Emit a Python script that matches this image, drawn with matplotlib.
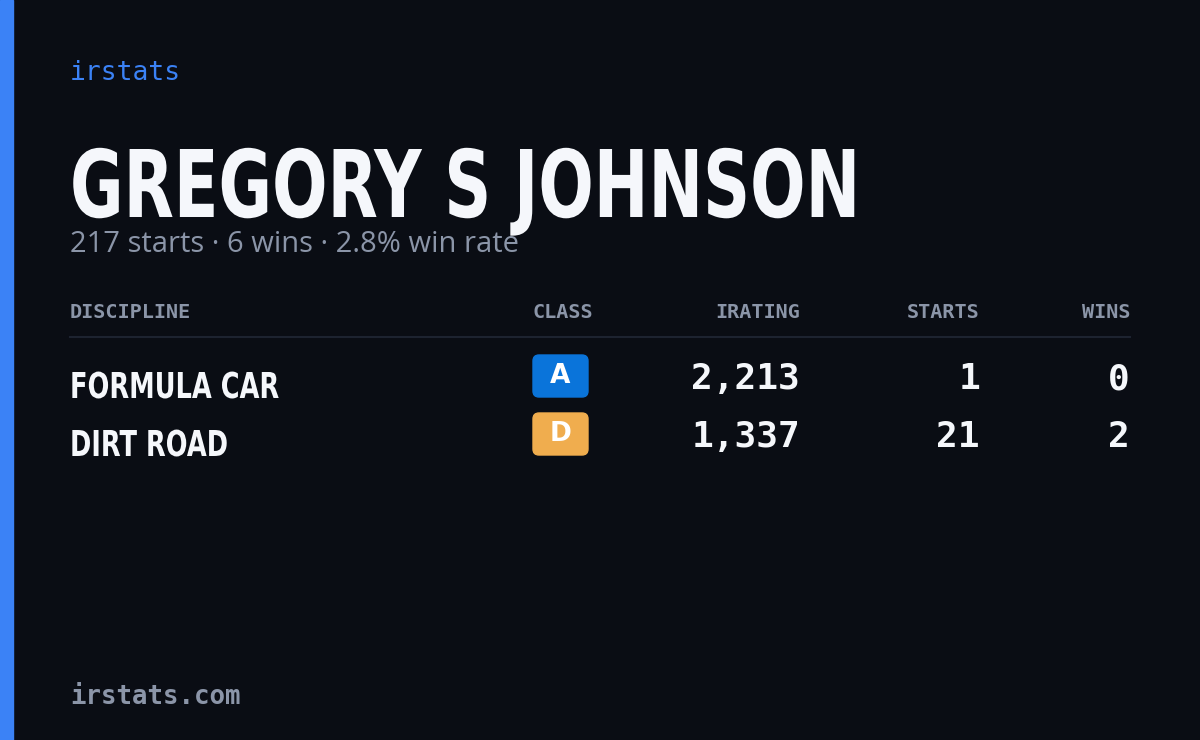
import matplotlib
matplotlib.use("Agg")
import matplotlib.pyplot as plt
from matplotlib.patches import Rectangle, FancyBboxPatch, PathPatch
from matplotlib.textpath import TextPath
from matplotlib.font_manager import FontProperties
from matplotlib.transforms import Affine2D

# card data
driver = "GREGORY S JOHNSON"
total_starts = 217
total_wins = 6
win_rate = 2.8
disciplines = ["FORMULA CAR", "DIRT ROAD"]
classes = ["A", "D"]
class_colors = ["#0a74da", "#f0ad4e"]
iratings = [2213, 1337]
starts = [1, 21]
wins = [0, 2]
headers = ["DISCIPLINE", "CLASS", "IRATING", "STARTS", "WINS"]

bg = "#0a0d14"
fig = plt.figure(figsize=(12, 7.4), dpi=100, facecolor=bg)
ax = fig.add_axes([0, 0, 1, 1])
ax.set_xlim(0, 1200)
ax.set_ylim(740, 0)
ax.axis("off")
ax.set_facecolor(bg)

ax.add_patch(Rectangle((0, 0), 13, 740, color="#3b82f6"))

mono = "DejaVu Sans Mono"
boldprop = FontProperties(family="DejaVu Sans", weight="bold")


def narrow_text(s, x, baseline, cap_h, squeeze, color):
    # draw text as a path, squeezed horizontally to look like a condensed face
    p = TextPath((0, 0), s, size=100, prop=boldprop)
    capref = TextPath((0, 0), "H", size=100, prop=boldprop).get_extents().height
    k = cap_h / capref
    tr = Affine2D().scale(k * squeeze, -k).translate(x, baseline)
    ax.add_patch(PathPatch(tr.transform_path(p), color=color, lw=0))


ax.text(70, 73, "irstats", color="#3b82f6", fontsize=19, family=mono, va="center")
narrow_text(driver, 70, 217, 68, 0.70, "#f5f7fb")
ax.text(70, 245, f"{total_starts} starts · {total_wins} wins · {win_rate}% win rate",
        color="#8b95a8", fontsize=21, family="Open Sans", va="center")

hx = [70, 593, 800, 980, 1130]
ha = ["left", "right", "right", "right", "right"]
for x, h, a in zip(hx, headers, ha):
    ax.text(x, 313, h, color="#8b95a8", fontsize=14.5, family=mono, fontweight="bold",
            ha=a, va="center")
ax.plot([70, 1130], [337, 337], color="#1d2330", lw=1.5)

for i, d in enumerate(disciplines):
    y = 382 + 58 * i
    narrow_text(d, 70, y + 16, 26, 0.72, "#f5f7fb")
    ax.add_patch(FancyBboxPatch((533, y - 27), 55, 42, boxstyle="round,pad=0,rounding_size=6",
                                color=class_colors[i]))
    ax.text(560.5, y - 6, classes[i], color="white", fontsize=19, fontweight="bold",
            ha="center", va="center")
    ax.text(800, y - 3, f"{iratings[i]:,}", color="#f5f7fb", fontsize=26, family=mono,
            fontweight="bold", ha="right", va="center")
    ax.text(980, y - 3, str(starts[i]), color="#f5f7fb", fontsize=26, family=mono,
            fontweight="bold", ha="right", va="center")
    ax.text(1130, y - 3, str(wins[i]), color="#f5f7fb", fontsize=26, family=mono,
            fontweight="bold", ha="right", va="center")

ax.text(70, 697, "irstats.com", color="#8b95a8", fontsize=18.5, family=mono,
        fontweight="bold", va="center")

fig.savefig("out.png", dpi=100, facecolor=bg)
